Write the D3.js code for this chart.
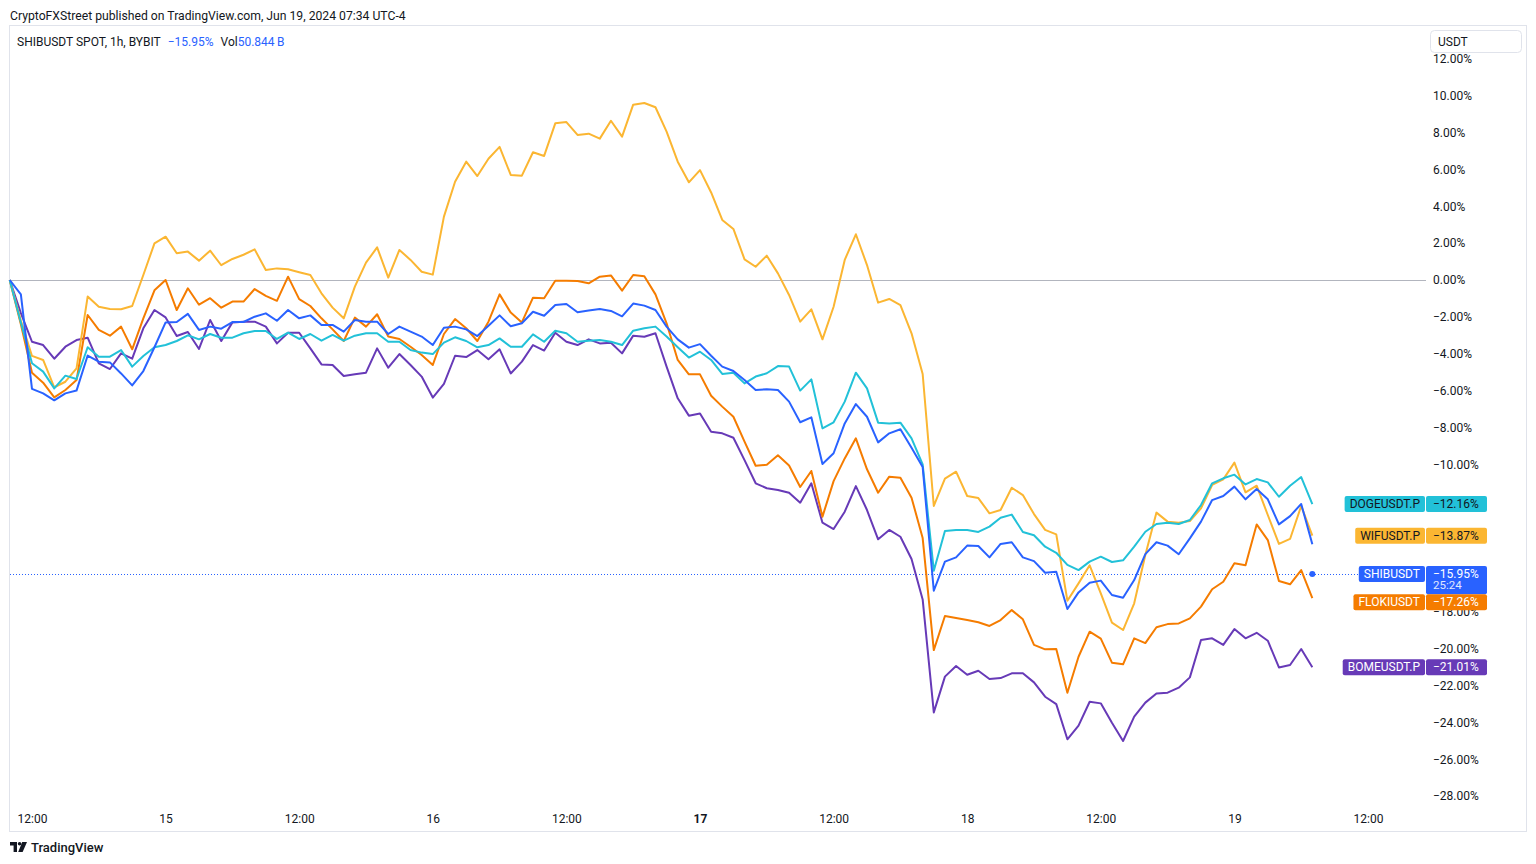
<!DOCTYPE html>
<html><head><meta charset="utf-8">
<script src="https://cdn.jsdelivr.net/npm/d3@7"></script>
<style>
body{margin:0;background:#fff;}
svg text{font-family:Roboto,"Noto Sans",sans-serif;fill:#131722;}
</style></head><body>
<svg id="c" width="1536" height="864"></svg>
<script>
// ---- data (percent change vs first bar, 1h bars from Jun 14 10:00) ----
const startTime = "2024-06-14T10:00";
const shib = [0,-0.78,-5.91,-6.15,-6.53,-6.15,-6.00,-4.10,-4.43,-4.47,-5.07,-5.72,-4.94,-3.65,-2.30,-2.28,-1.84,-2.71,-2.53,-2.64,-2.28,
-2.28,-1.99,-1.81,-2.21,-1.63,-2.08,-1.92,-2.44,-2.44,-2.80,-2.17,-2.26,-2.26,-2.93,-2.53,-2.80,-3.07,-3.53,-2.59,-2.53,
-2.68,-3.04,-2.48,-1.92,-2.51,-2.35,-1.72,-1.94,-1.36,-1.30,-1.75,-1.66,-1.57,-1.68,-1.97,-1.28,-1.39,-1.63,-2.53,-3.22,
-3.67,-3.48,-4.11,-4.70,-4.94,-5.43,-5.97,-5.93,-5.97,-6.60,-7.72,-7.45,-9.98,-9.40,-7.78,-6.73,-7.42,-8.81,-8.32,-8.10,
-9.10,-10.15,-16.86,-15.28,-15.05,-14.41,-14.43,-15.05,-14.32,-14.23,-15.05,-15.25,-15.88,-15.83,-17.85,-16.95,-16.42,-16.31,-17.09,-17.24,
-16.28,-14.87,-14.23,-14.41,-14.88,-14.02,-13.11,-11.94,-11.72,-11.21,-11.90,-11.34,-11.90,-13.26,-12.81,-12.15,-14.34];
const doge = [0,-2.3,-4.52,-4.97,-5.88,-5.19,-5.37,-3.65,-4.16,-4.16,-3.80,-4.70,-4.12,-3.65,-3.53,-3.31,-3.00,-3.22,-2.93,-3.13,-3.13,
-2.89,-2.77,-2.77,-3.20,-2.86,-3.20,-2.93,-3.29,-2.98,-3.29,-3.02,-2.89,-2.89,-3.35,-3.35,-3.80,-3.94,-4.02,-3.40,-3.11,
-3.31,-3.65,-3.53,-3.17,-3.62,-3.62,-2.95,-3.35,-2.75,-2.89,-3.35,-3.29,-3.26,-3.35,-3.53,-2.75,-2.62,-2.53,-3.07,-3.65,
-4.21,-3.89,-4.34,-5.10,-5.03,-5.61,-5.24,-5.06,-4.67,-4.70,-6.00,-5.39,-8.05,-7.72,-6.60,-5.03,-5.88,-7.74,-7.78,-7.74,
-8.59,-10.00,-15.77,-13.62,-13.56,-13.56,-13.67,-13.38,-12.90,-12.73,-13.67,-13.85,-14.47,-14.80,-15.46,-15.74,-15.28,-15.01,-15.30,-15.21,
-14.47,-13.66,-13.24,-13.17,-13.24,-13.02,-12.21,-11.03,-10.76,-10.56,-11.09,-10.80,-10.98,-11.76,-11.16,-10.69,-12.16];
const wif = [0,-2.2,-4.12,-4.34,-5.82,-5.52,-4.79,-0.90,-1.45,-1.57,-1.59,-1.41,0.27,1.99,2.35,1.45,1.54,1.05,1.59,0.80,1.14,
1.37,1.66,0.54,0.63,0.58,0.42,0.27,-0.72,-1.50,-2.08,-0.36,0.94,1.77,0.13,1.63,1.09,0.45,0.29,3.44,5.33,
6.42,5.64,6.58,7.22,5.70,5.66,6.93,6.73,8.50,8.57,7.87,7.94,7.67,8.64,7.78,9.51,9.60,9.37,8.05,6.42,
5.30,5.96,4.75,3.26,2.77,1.12,0.72,1.32,0.36,-0.81,-2.26,-1.59,-3.22,-1.45,1.09,2.48,0.81,-1.23,-1.03,-1.36,
-2.89,-5.10,-12.26,-10.78,-10.40,-11.72,-11.83,-12.66,-12.48,-11.27,-11.67,-12.70,-13.56,-13.80,-17.40,-16.46,-15.48,-17.00,-18.59,-18.99,
-17.54,-14.92,-12.62,-13.11,-13.17,-13.08,-12.39,-11.12,-10.82,-9.91,-11.52,-11.16,-12.75,-14.32,-14.05,-12.26,-13.87];
const floki = [0,-2.4,-5.03,-5.57,-6.37,-5.97,-5.43,-1.90,-2.71,-3.02,-2.53,-3.76,-2.08,-0.56,0,-1.63,-0.45,-1.34,-0.99,-1.50,-1.17,
-1.17,-0.49,-0.86,-1.13,0.18,-1.04,-1.41,-2.08,-2.68,-3.31,-2.04,-2.53,-1.86,-3.07,-3.20,-3.62,-4.07,-4.61,-2.93,-2.12,
-2.62,-3.31,-2.26,-0.78,-1.77,-2.30,-0.96,-0.99,-0.04,-0.04,-0.05,-0.18,0.18,0.25,-0.58,0.27,0.20,-0.78,-2.35,-4.34,
-5.12,-5.12,-6.28,-6.87,-7.42,-8.77,-10.08,-10.02,-9.51,-10.06,-11.23,-10.36,-12.84,-10.91,-9.68,-8.59,-10.27,-11.54,-10.67,-10.73,
-11.81,-14.00,-20.08,-18.23,-18.34,-18.45,-18.57,-18.77,-18.45,-17.91,-18.41,-19.80,-20.04,-20.02,-22.39,-20.44,-19.08,-19.46,-20.76,-20.85,
-19.44,-19.70,-18.84,-18.67,-18.63,-18.36,-17.72,-16.78,-16.37,-15.37,-15.48,-13.26,-14.11,-16.33,-16.51,-15.74,-17.26];
const bome = [0,-1.8,-3.35,-3.53,-4.27,-3.62,-3.26,-3.13,-4.52,-4.83,-3.98,-4.27,-2.62,-1.63,-2.03,-3.04,-2.82,-3.74,-2.17,-3.31,-2.30,
-2.26,-2.26,-2.53,-3.44,-2.86,-2.86,-3.71,-4.58,-4.61,-5.21,-5.12,-5.03,-3.71,-4.76,-4.02,-4.61,-5.24,-6.38,-5.64,-4.11,
-4.18,-3.80,-4.30,-3.76,-5.07,-4.43,-3.53,-3.83,-2.86,-3.35,-3.53,-3.22,-3.44,-3.40,-3.98,-3.02,-3.08,-2.89,-4.70,-6.42,
-7.36,-7.24,-8.23,-8.32,-8.56,-9.77,-11.03,-11.30,-11.39,-11.54,-12.08,-11.03,-13.17,-13.51,-12.57,-11.18,-12.48,-14.07,-13.56,-13.93,
-15.14,-17.33,-23.46,-21.52,-20.94,-21.42,-21.20,-21.65,-21.60,-21.34,-21.34,-21.83,-22.61,-23.01,-24.92,-24.18,-22.88,-22.97,-24.02,-25.01,
-23.69,-22.93,-22.43,-22.39,-22.12,-21.56,-19.53,-19.44,-19.80,-18.94,-19.44,-19.14,-19.57,-21.02,-20.89,-20.02,-21.01];

const seriesNames = ["BOMEUSDT.P","FLOKIUSDT","WIFUSDT.P","DOGEUSDT.P","SHIBUSDT"];
const seriesColors = ["#673AB7","#F57C00","#FBB632","#22C1D8","#2962FF"];
const seriesTextColors = ["#ffffff","#ffffff","#131722","#131722","#ffffff"];
const lastValues = [-21.01,-17.26,-13.87,-12.16,-15.95];
const mainCountdown = "25:24";

const xTickTimes = ["2024-06-14T12:00","2024-06-15T00:00","2024-06-15T12:00","2024-06-16T00:00","2024-06-16T12:00",
  "2024-06-17T00:00","2024-06-17T12:00","2024-06-18T00:00","2024-06-18T12:00","2024-06-19T00:00","2024-06-19T12:00"];
const xTickLabels = ["12:00","15","12:00","16","12:00","17","12:00","18","12:00","19","12:00"];
const yTicks = [12,10,8,6,4,2,0,-2,-4,-6,-8,-10,-12,-14,-16,-18,-20,-22,-24,-26,-28];

// ---- chart ----
const FONT = "Roboto, 'Noto Sans', sans-serif";
const svg = d3.select("#c");
const parse = d3.utcParse("%Y-%m-%dT%H:%M");
const t0 = parse(startTime);
const x = d3.scaleUtc().domain([t0, parse("2024-06-19T12:00")]).range([9.73, 1368]);
const y = d3.scaleLinear().domain([13.78, -29.84]).range([26, 830]);
const fmt = d => (d < 0 ? "\u2212" : "") + Math.abs(d).toFixed(2) + "%";

// frame
svg.append("rect").attr("x", 9.5).attr("y", 25.5).attr("width", 1517).attr("height", 806)
  .attr("fill", "none").attr("stroke", "#E0E3EB");

// header
svg.append("text").attr("x", 10).attr("y", 20).attr("font-size", 12.2)
  .text("CryptoFXStreet published on TradingView.com, Jun 19, 2024 07:34 UTC-4");

// zero line
svg.append("line").attr("x1", 10).attr("x2", 1426).attr("y1", Math.round(y(0)) + 0.5).attr("y2", Math.round(y(0)) + 0.5)
  .attr("stroke", "#B2B5BE").attr("stroke-width", 1);

// y axis
const gy = svg.append("g").attr("transform", "translate(1426,0)")
  .call(d3.axisRight(y).tickValues(yTicks).tickFormat(fmt).tickSize(0).tickPadding(7));
gy.select(".domain").remove();
gy.selectAll("text").attr("font-size", 12).attr("font-family", FONT).attr("fill", "#131722");

// x axis
const gx = svg.append("g").attr("transform", "translate(0,812)")
  .call(d3.axisBottom(x).tickValues(xTickTimes.map(parse)).tickFormat((d, i) => xTickLabels[i]).tickSize(0).tickPadding(2));
gx.select(".domain").remove();
gx.selectAll("text").attr("font-size", 12).attr("font-family", FONT).attr("fill", "#131722")
  .attr("font-weight", (d, i) => xTickLabels[i] === "17" ? 700 : 400);

// dotted main price line
const mainY = Math.round(y(lastValues[4])) + 0.5;
svg.append("line").attr("x1", 10).attr("x2", 1426).attr("y1", mainY).attr("y2", mainY)
  .attr("stroke", "#2962FF").attr("stroke-width", 1).attr("stroke-dasharray", "1,2");

// series lines
const all = [bome, floki, wif, doge, shib];
const line = d3.line().x((d, i) => x(d3.utcHour.offset(t0, i))).y(d => y(d));
all.forEach((vals, k) => {
  svg.append("path").datum(vals).attr("d", line).attr("fill", "none")
    .attr("stroke", seriesColors[k]).attr("stroke-width", 2).attr("stroke-linejoin", "round");
});
// main price dot
svg.append("circle").attr("cx", x(d3.utcHour.offset(t0, shib.length - 1))).attr("cy", y(lastValues[4]))
  .attr("r", 3).attr("fill", "#2962FF");

// legend
const lg = svg.append("text").attr("x", 17).attr("y", 46).attr("font-size", 12);
lg.append("tspan").text("SHIBUSDT SPOT, 1h, BYBIT");
lg.append("tspan").attr("dx", 7).style("fill", "#2962FF").text("\u221215.95%");
lg.append("tspan").attr("dx", 7).text("Vol");
lg.append("tspan").style("fill", "#2962FF").text("50.844\u2009B");

// USDT box
svg.append("rect").attr("x", 1430.5).attr("y", 30.5).attr("width", 91).attr("height", 22).attr("rx", 4)
  .attr("fill", "#fff").attr("stroke", "#E0E3EB");
svg.append("text").attr("x", 1438).attr("y", 45.5).attr("font-size", 12).text("USDT");

// tags (resolve overlaps top-down)
const tags = seriesNames.map((n, k) => ({k, n, v: lastValues[k], cy: y(lastValues[k]), h: k === 4 ? 28.3 : 16}));
tags.sort((a, b) => a.cy - b.cy);
let prevBottom = -1e9;
tags.forEach(t => {
  let top = t.cy - 8;
  if (top < prevBottom) top = prevBottom;
  t.top = top;
  prevBottom = top + t.h;
});
tags.forEach(t => {
  const g = svg.append("g");
  const nt = g.append("text").attr("font-size", 12).attr("text-anchor", "middle").text(t.n);
  const w = nt.node().getComputedTextLength() + 10;
  g.insert("rect", "text").attr("x", 1425 - w).attr("y", t.top).attr("width", w).attr("height", 16)
    .attr("rx", 2).attr("fill", seriesColors[t.k]);
  nt.attr("x", 1425 - w / 2).attr("y", t.top + 12).style("fill", seriesTextColors[t.k]);
  g.append("rect").attr("x", 1426).attr("y", t.top).attr("width", 61).attr("height", t.h)
    .attr("rx", 2).attr("fill", seriesColors[t.k]);
  g.append("text").attr("x", 1433).attr("y", t.top + 12).attr("font-size", 12)
    .style("fill", seriesTextColors[t.k]).text(fmt(t.v));
  if (t.k === 4) {
    g.append("text").attr("x", 1433).attr("y", t.top + 23.5).attr("font-size", 11.5)
      .style("fill", "#ffffff").style("opacity", 0.85).text(mainCountdown);
  }
});

// footer logo
const lgo = svg.append("g").attr("transform", "translate(10,842)").attr("fill", "#131722");
lgo.append("path").attr("d", "M0 0 H7 V10 H3.6 V3.4 H0 Z");
lgo.append("circle").attr("cx", 9.6).attr("cy", 1.8).attr("r", 1.8);
lgo.append("path").attr("d", "M12.2 0 H17 L12.6 10 H8.2 Z");
svg.append("text").attr("x", 31).attr("y", 852).attr("font-size", 13).attr("font-weight", 500).text("TradingView");
</script>
</body></html>
